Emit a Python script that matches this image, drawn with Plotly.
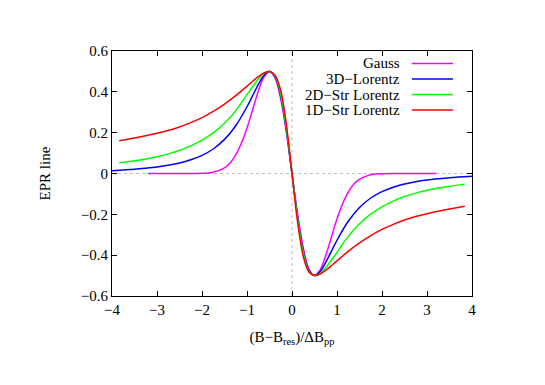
import plotly.graph_objects as go

# ---- data ----
x_gauss = [-3.2, -2.5, -2.0, -1.75, -1.5, -1.375, -1.25, -1.125, -1.0, -0.875, -0.75, -0.625, -0.5,
           -0.375, -0.25, -0.125, 0.0, 0.125, 0.25, 0.375, 0.5, 0.625, 0.75, 0.875, 1.0,
           1.125, 1.25, 1.375, 1.5, 1.75, 2.0, 2.5, 3.2]
y_gauss = [0.000, 0.000, 0.001, 0.006, 0.028, 0.052, 0.091, 0.148, 0.223, 0.312, 0.402, 0.472, 0.500,
           0.467, 0.364, 0.200, 0.000, -0.200, -0.364, -0.467, -0.500, -0.472, -0.402, -0.312, -0.223,
           -0.148, -0.091, -0.052, -0.028, -0.006, -0.001, 0.000, 0.000]

x_lor3d = [-4.0, -3.5, -3.25, -3.0, -2.75, -2.5, -2.25, -2.0, -1.75, -1.5, -1.25, -1.0, -0.875, -0.75,
           -0.625, -0.5, -0.375, -0.25, -0.125, 0.0, 0.125, 0.25, 0.375, 0.5, 0.625, 0.75, 0.875, 1.0,
           1.25, 1.5, 1.75, 2.0, 2.25, 2.5, 2.75, 3.0, 3.25, 3.5, 4.0]
y_lor3d = [0.014, 0.021, 0.026, 0.032, 0.040, 0.051, 0.067, 0.089, 0.120, 0.167, 0.234, 0.327, 0.381, 0.435,
           0.480, 0.500, 0.473, 0.379, 0.213, 0.000, -0.213, -0.379, -0.473, -0.500, -0.480, -0.435, -0.381,
           -0.327, -0.234, -0.167, -0.120, -0.089, -0.067, -0.051, -0.040, -0.032, -0.026, -0.021, -0.014]

x_str = [-3.84, -3.5, -3.25, -3.0, -2.75, -2.5, -2.25, -2.0, -1.75, -1.5, -1.25, -1.0, -0.875, -0.75,
         -0.625, -0.5, -0.375, -0.25, -0.125, 0.0, 0.125, 0.25, 0.375, 0.5, 0.625, 0.75, 0.875, 1.0,
         1.25, 1.5, 1.75, 2.0, 2.25, 2.5, 2.75, 3.0, 3.25, 3.5, 3.84]
y_str2d = [0.052, 0.062, 0.071, 0.082, 0.096, 0.113, 0.135, 0.163, 0.199, 0.246, 0.308, 0.386, 0.425, 0.462,
           0.490, 0.500, 0.478, 0.387, 0.221, 0.000, -0.221, -0.387, -0.478, -0.500, -0.490, -0.462, -0.425,
           -0.386, -0.308, -0.246, -0.199, -0.163, -0.135, -0.113, -0.096, -0.082, -0.071, -0.062, -0.052]
y_str1d = [0.160, 0.174, 0.185, 0.197, 0.211, 0.228, 0.249, 0.274, 0.304, 0.340, 0.381, 0.428, 0.452, 0.474,
           0.492, 0.500, 0.482, 0.405, 0.240, 0.000, -0.240, -0.405, -0.482, -0.500, -0.492, -0.474, -0.452,
           -0.428, -0.381, -0.340, -0.304, -0.274, -0.249, -0.228, -0.211, -0.197, -0.185, -0.174, -0.160]

names = ["Gauss", "3D\u2212Lorentz", "2D\u2212Str Lorentz", "1D\u2212Str Lorentz"]
colors = ["#ff00ff", "#0000ff", "#00ff00", "#ff0000"]
x_ticks = [-4, -3, -2, -1, 0, 1, 2, 3, 4]
y_ticks = [-0.6, -0.4, -0.2, 0, 0.2, 0.4, 0.6]
y_ticktext = ["\u22120.6", "\u22120.4", "\u22120.2", "0", "0.2", "0.4", "0.6"]

series = [(x_gauss, y_gauss), (x_lor3d, y_lor3d), (x_str, y_str2d), (x_str, y_str1d)]

FONT = "Liberation Serif, Times New Roman, serif"
FS = 15
FRAME = "#000000"

fig = go.Figure()
for (xs, ys), nm, c in zip(series, names, colors):
    fig.add_trace(go.Scatter(x=xs, y=ys, mode="lines", name=nm,
                             line=dict(color=c, width=1.5, shape="spline", smoothing=1.0),
                             showlegend=False))

# zero lines (dotted)
shapes = [
    dict(type="line", xref="paper", yref="y", x0=0, x1=1, y0=0, y1=0,
         line=dict(color="#c0c0c0", width=1, dash="dot"), layer="below"),
    dict(type="line", xref="x", yref="paper", x0=0, x1=0, y0=0, y1=1,
         line=dict(color="#c0c0c0", width=1, dash="dot"), layer="below"),
]
annotations = []
# gnuplot-style key: right-aligned text, line sample on the right
row_top = 0.949
row_step = 0.0633
for i, (nm, c) in enumerate(zip(names, colors)):
    yy = row_top - i * row_step
    annotations.append(dict(xref="paper", yref="paper", x=0.806, y=yy, text=nm,
                            showarrow=False, xanchor="right", yanchor="middle",
                            font=dict(family=FONT, size=FS, color="black")))
    shapes.append(dict(type="line", xref="paper", yref="paper", x0=0.833, x1=0.947,
                       y0=yy, y1=yy, line=dict(color=c, width=1.5)))

axis_common = dict(showline=True, linecolor=FRAME, linewidth=1, mirror="allticks",
                   ticks="inside", ticklen=5, tickwidth=1, tickcolor=FRAME, showgrid=False,
                   zeroline=False, tickfont=dict(family=FONT, size=FS, color="black"))

# page body has an 8px margin, so the figure is a bit smaller than the window
fig.update_layout(
    width=537, height=377,
    margin=dict(l=104, r=73, t=43, b=89),
    paper_bgcolor="white", plot_bgcolor="white",
    shapes=shapes, annotations=annotations,
    xaxis=dict(range=[-4, 4], tickvals=x_ticks,
               title=dict(text="(B\u2212B<sub>res</sub>)/\u0394B<sub>pp</sub>",
                          font=dict(family=FONT, size=FS, color="black"), standoff=14),
               **axis_common),
    yaxis=dict(range=[-0.6, 0.6], tickvals=y_ticks, ticktext=y_ticktext,
               title=dict(text="EPR line", font=dict(family=FONT, size=FS, color="black"), standoff=26),
               **axis_common),
)

fig.write_html("out.html")
